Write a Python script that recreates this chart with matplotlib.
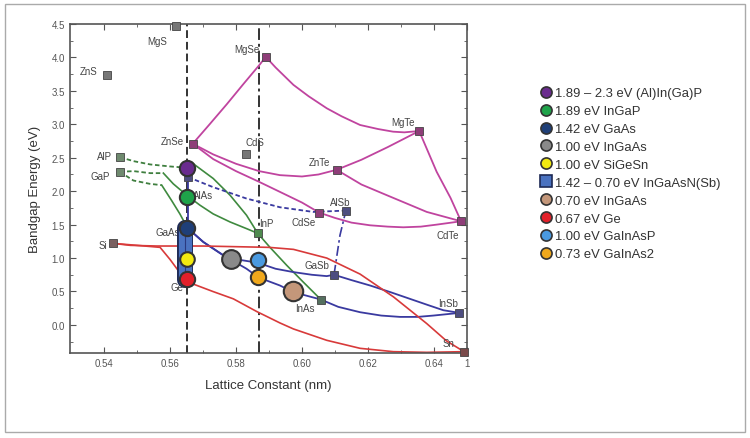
import matplotlib.pyplot as plt
from matplotlib.lines import Line2D
from matplotlib.patches import Rectangle

plt.rcParams['font.family'] = ['Liberation Sans', 'DejaVu Sans']

# binary compounds: lattice constant (nm) and bandgap (eV)
names = ['ZnS', 'MgS', 'MgSe', 'ZnSe', 'CdS', 'AlP', 'GaP', 'MgTe', 'ZnTe', 'AlSb', 'CdSe',
         'CdTe', 'GaSb', 'InSb', 'Sn', 'InAs', 'InP', 'Si', 'GaAs', 'Ge', 'AlAs']
latt = [0.5408, 0.5618, 0.5890, 0.5669, 0.5829, 0.5448, 0.5448, 0.6355, 0.6105, 0.6133, 0.6052,
        0.6482, 0.6097, 0.6477, 0.6491, 0.6057, 0.5866, 0.5427, 0.5653, 0.5658, 0.5655]
gap = [3.74, 4.47, 4.01, 2.71, 2.56, 2.51, 2.29, 2.90, 2.32, 1.71, 1.68,
       1.55, 0.75, 0.18, -0.40, 0.38, 1.37, 1.22, 1.45, 0.67, 2.21]
sq_col = ['#777777', '#777777', '#8e3d78', '#8e3d78', '#777777', '#6f8a6f', '#6f8a6f', '#8e3d78',
          '#8e3d78', '#4d4d80', '#8e3d78', '#8e3d78', '#4d4d80', '#4d4d80', '#7a4a4a', '#55705f',
          '#4f8a4f', '#7a6060', '#3b3b8e', '#7a4a4a', '#4d4d80']
# label offsets in pixels
lab_off = {'ZnS': (-18, 4), 'MgS': (-19, -15), 'MgSe': (-19, 8), 'ZnSe': (-20, 3), 'CdS': (9, 12),
           'AlP': (-15, 1), 'GaP': (-20, -4), 'MgTe': (-16, 9), 'ZnTe': (-17, 8), 'AlSb': (-6, 9),
           'CdSe': (-16, -9), 'CdTe': (-13, -14), 'GaSb': (-17, 10), 'InSb': (-11, 10), 'Sn': (-16, 9),
           'InAs': (-16, -8), 'InP': (9, 10), 'Si': (-10, -2), 'GaAs': (-20, -4), 'Ge': (-12, -7),
           'AlAs': (15, -18)}

# alloy curves
magenta_curves = [
    ([0.5669, 0.5720, 0.5772, 0.5822, 0.5873, 0.5890], [2.71, 3.00, 3.30, 3.60, 3.90, 4.01]),
    ([0.5890, 0.5920, 0.5974, 0.6020, 0.6075, 0.6120, 0.6176, 0.6230, 0.6276, 0.6310, 0.6355],
     [4.01, 3.85, 3.59, 3.42, 3.24, 3.12, 2.99, 2.93, 2.89, 2.88, 2.90]),
    ([0.6105, 0.6180, 0.6260, 0.6355], [2.32, 2.47, 2.66, 2.90]),
    ([0.6355, 0.6408, 0.6450, 0.6482], [2.90, 2.29, 1.90, 1.55]),
    ([0.5669, 0.5731, 0.5800, 0.5870, 0.5933, 0.6000, 0.6050, 0.6105],
     [2.71, 2.55, 2.41, 2.30, 2.24, 2.22, 2.25, 2.32]),
    ([0.5669, 0.5731, 0.5800, 0.5870, 0.5933, 0.6000, 0.6052],
     [2.71, 2.48, 2.30, 2.14, 1.99, 1.83, 1.68]),
    ([0.6105, 0.6180, 0.6257, 0.6320, 0.6378, 0.6482], [2.32, 2.10, 1.94, 1.81, 1.69, 1.55]),
    ([0.6052, 0.6100, 0.6150, 0.6206, 0.6260, 0.6307, 0.6360, 0.6408, 0.6482],
     [1.68, 1.60, 1.53, 1.49, 1.47, 1.46, 1.47, 1.50, 1.55]),
]
green_dashed = [
    ([0.5448, 0.5489, 0.5540, 0.5600, 0.5653], [2.51, 2.45, 2.40, 2.37, 2.35]),
    ([0.5448, 0.5490, 0.5540, 0.5580], [2.29, 2.30, 2.27, 2.27]),
    ([0.5448, 0.5489, 0.5539, 0.5575], [2.29, 2.16, 2.11, 2.09]),
]
green_solid = [
    ([0.5580, 0.5610, 0.5653, 0.5691, 0.5731, 0.5782, 0.5832, 0.5866],
     [2.27, 2.11, 1.93, 1.79, 1.66, 1.54, 1.44, 1.37]),
    ([0.5575, 0.5605, 0.5630, 0.5653], [2.09, 1.86, 1.66, 1.45]),
    ([0.5668, 0.5731, 0.5782, 0.5832, 0.5866], [2.42, 2.19, 1.94, 1.64, 1.37]),
    ([0.5866, 0.5903, 0.5954, 0.6004, 0.6057], [1.37, 1.16, 0.89, 0.64, 0.38]),
]
blue_solid = [
    ([0.5653, 0.5701, 0.5762, 0.5832, 0.5868, 0.5933, 0.5974, 0.6057],
     [1.45, 1.24, 1.04, 0.84, 0.71, 0.59, 0.49, 0.38]),
    ([0.5653, 0.5701, 0.5762, 0.5815, 0.5866, 0.5920, 0.5974, 0.6030, 0.6075, 0.6097],
     [1.45, 1.24, 1.04, 0.97, 0.93, 0.84, 0.79, 0.75, 0.73, 0.75]),
    ([0.6097, 0.6150, 0.6206, 0.6268, 0.6327, 0.6380, 0.6428, 0.6477],
     [0.75, 0.67, 0.59, 0.49, 0.39, 0.30, 0.22, 0.18]),
    ([0.6057, 0.6110, 0.6176, 0.6240, 0.6297, 0.6350, 0.6398, 0.6477],
     [0.38, 0.27, 0.19, 0.14, 0.12, 0.12, 0.14, 0.18]),
    ([0.5655, 0.5655], [2.21, 1.45]),
]
blue_dashed = [
    ([0.5655, 0.5731, 0.5832, 0.5933, 0.6034, 0.6133], [2.21, 2.06, 1.89, 1.76, 1.69, 1.71]),
]
blue_dashdot = [([0.6097, 0.6115, 0.6133], [0.75, 1.34, 1.71])]
red_curves = [
    ([0.5427, 0.5480, 0.5560, 0.5700, 0.5800, 0.5900, 0.5974, 0.6075, 0.6176, 0.6277, 0.6378,
      0.6438, 0.6491],
     [1.22, 1.19, 1.18, 1.18, 1.17, 1.16, 1.13, 1.00, 0.76, 0.42, 0.02, -0.24, -0.40]),
    ([0.5427, 0.5500, 0.5570, 0.5600, 0.5630, 0.5658], [1.22, 1.19, 1.16, 0.98, 0.78, 0.67]),
    ([0.5658, 0.5671, 0.5730, 0.5792, 0.5863, 0.5933, 0.5974, 0.6075, 0.6176, 0.6277, 0.6378,
      0.6491],
     [0.67, 0.61, 0.50, 0.39, 0.20, 0.03, -0.06, -0.23, -0.35, -0.40, -0.41, -0.40]),
]

# solar cell materials (circles)
cell_labels = ['1.89 – 2.3 eV (Al)In(Ga)P', '1.89 eV InGaP', '1.42 eV GaAs', '1.00 eV InGaAs',
               '1.00 eV SiGeSn', '1.42 – 0.70 eV InGaAsN(Sb)', '0.70 eV InGaAs', '0.67 eV Ge',
               '1.00 eV GaInAsP', '0.73 eV GaInAs2']
cell_colors = ['#6a2c8e', '#1fa34a', '#1f3f78', '#8a8a8a', '#f2ea10', '#4a72c0', '#c4977a',
               '#e2202a', '#4a9ae0', '#f0a81c']
cell_x = [0.5653, 0.5653, 0.5653, 0.5785, 0.5653, None, 0.5974, 0.5653, 0.5866, 0.5866]
cell_y = [2.34, 1.91, 1.45, 0.99, 0.99, None, 0.50, 0.68, 0.97, 0.72]
cell_size = [11, 11, 11, 13.5, 10.5, None, 14, 11, 11, 11]
bar_x = 0.5646
bar_y = [0.67, 1.45]

fig = plt.figure(figsize=(7.5, 4.39), dpi=100)
fig.patches.append(Rectangle((5 / 750, 6 / 439), 740 / 750, 428 / 439, transform=fig.transFigure,
                             fill=False, edgecolor='#aaaaaa', lw=1))
ax = fig.add_axes([0.0933, 0.1936, 0.5294, 0.7494])

ax.axvline(0.5653, color='#333333', lw=1.4, ls=(0, (4, 2)), zorder=1)
ax.axvline(0.5869, color='#333333', lw=1.4, ls=(0, (6, 2, 1.5, 2)), zorder=1)

for xs, ys in magenta_curves:
    ax.plot(xs, ys, color='#c0449f', lw=1.3, zorder=2)
for xs, ys in green_dashed:
    ax.plot(xs, ys, color='#3f7f3f', lw=1.3, ls=(0, (2.5, 1.5)), zorder=2)
for xs, ys in green_solid:
    ax.plot(xs, ys, color='#3f8a3f', lw=1.2, zorder=2)
for xs, ys in blue_solid:
    ax.plot(xs, ys, color='#3a3aa0', lw=1.3, zorder=2)
for xs, ys in blue_dashed:
    ax.plot(xs, ys, color='#3a3aa0', lw=1.3, ls=(0, (2.5, 1.5)), zorder=2)
for xs, ys in blue_dashdot:
    ax.plot(xs, ys, color='#3a3aa0', lw=1.2, ls=(0, (6, 2, 1.5, 2)), zorder=2)
for xs, ys in red_curves:
    ax.plot(xs, ys, color='#d83a3a', lw=1.2, zorder=2)

for n, x, y, c in zip(names, latt, gap, sq_col):
    ax.plot(x, y, 's', ms=5.5, color=c, mec='#444444', mew=0.6, zorder=3, clip_on=False)
    ax.annotate(n, (x, y), xytext=lab_off[n], textcoords='offset pixels', ha='center',
                va='center', fontsize=7, color='#444444', zorder=3)

# InGaAsN(Sb) bar
ax.plot([bar_x, bar_x], bar_y, color='#1e2a55', lw=11.5, solid_capstyle='round', zorder=4)
ax.plot([bar_x, bar_x], bar_y, color='#4a72c0', lw=9.5, solid_capstyle='round', zorder=4)
ax.plot([bar_x, bar_x], bar_y, color='#2a3a80', lw=0.8, zorder=4)

handles = []
for lab, c, x, y, s in zip(cell_labels, cell_colors, cell_x, cell_y, cell_size):
    if x is None:
        handles.append(Line2D([], [], ls='', marker='s', ms=8, mfc=c, mec='#1e2a55', mew=1.2,
                              label=lab))
        continue
    ax.plot(x, y, 'o', ms=s, mfc=c, mec='#333333', mew=1.5, zorder=5)
    handles.append(Line2D([], [], ls='', marker='o', ms=8, mfc=c, mec='#333333', mew=1.2,
                          label=lab))

ax.set_xlim(0.5297, 0.65)
ax.set_ylim(-0.42, 4.5)
ax.set_xticks([0.54, 0.56, 0.58, 0.60, 0.62, 0.64, 0.65])
ax.set_xticklabels(['0.54', '0.56', '0.58', '0.60', '0.62', '0.64', '1'])
ax.set_xticks([0.55, 0.57, 0.59, 0.61, 0.63], minor=True)
ax.set_yticks([0.0, 0.5, 1.0, 1.5, 2.0, 2.5, 3.0, 3.5, 4.0, 4.5])
ax.set_yticks([-0.25, 0.25, 0.75, 1.25, 1.75, 2.25, 2.75, 3.25, 3.75, 4.25], minor=True)
ax.tick_params(which='both', direction='in', top=True, right=True, labelsize=7,
               labelcolor='#555555', color='#555555')
ax.tick_params(which='major', length=4)
ax.tick_params(which='minor', length=2)
for sp in ax.spines.values():
    sp.set_color('#555555')
    sp.set_linewidth(1.2)
ax.set_xlabel('Lattice Constant (nm)', fontsize=9.5, color='#333333', labelpad=8)
ax.set_ylabel('Bandgap Energy (eV)', fontsize=9.5, color='#333333', labelpad=8)

fig.legend(handles=handles, loc='upper left', bbox_to_anchor=(534 / 750, 1 - 83 / 439),
           frameon=False, fontsize=9.4, handletextpad=0.1, labelspacing=0.44, handlelength=1.1,
           labelcolor='#333333', borderaxespad=0)

fig.savefig('out.png', dpi=100)
